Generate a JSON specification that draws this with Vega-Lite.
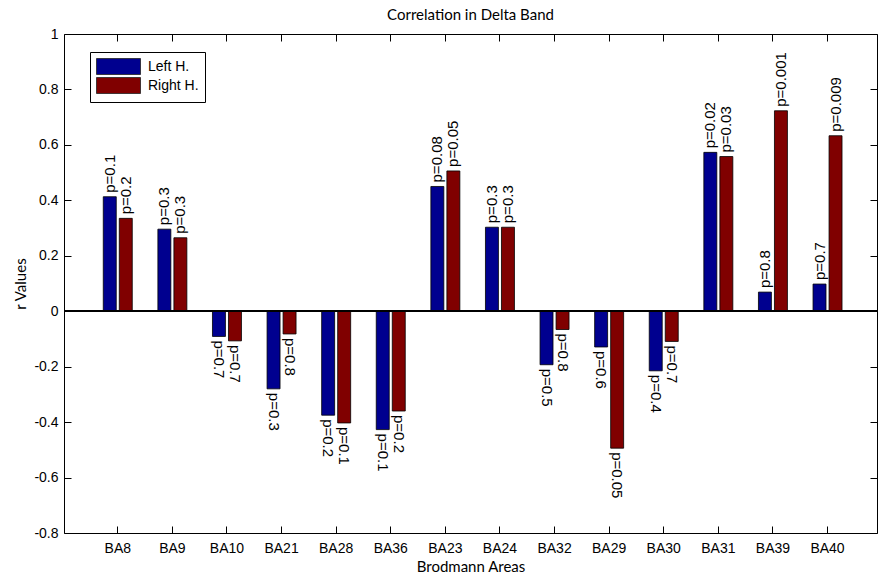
{
  "$schema": "https://vega.github.io/schema/vega-lite/v6.json",
  "width": 813,
  "height": 499,
  "autosize": {"type": "none"},
  "padding": {"left": 64, "top": 34, "right": 1, "bottom": 44},
  "background": "white",
  "title": {"text": "Correlation in Delta Band", "font": "Lato", "fontSize": 15, "fontWeight": "normal", "color": "black", "offset": 4, "anchor": "middle"},
  "config": {
    "view": {"stroke": null},
    "axis": {"grid": false, "domainColor": "black", "tickColor": "black", "labelColor": "black", "labelFont": "Liberation Sans", "labelFontSize": 14, "titleFont": "Lato", "titleFontSize": 15, "titleFontWeight": "normal", "titleColor": "black", "tickSize": -7, "domainWidth": 1, "tickWidth": 1}
  },
  "data": {"values": [
    {"area": "BA8", "hemi": "Left H.", "r": 0.413, "p": "p=0.1"},
    {"area": "BA8", "hemi": "Right H.", "r": 0.335, "p": "p=0.2"},
    {"area": "BA9", "hemi": "Left H.", "r": 0.296, "p": "p=0.3"},
    {"area": "BA9", "hemi": "Right H.", "r": 0.265, "p": "p=0.3"},
    {"area": "BA10", "hemi": "Left H.", "r": -0.091, "p": "p=0.7"},
    {"area": "BA10", "hemi": "Right H.", "r": -0.107, "p": "p=0.7"},
    {"area": "BA21", "hemi": "Left H.", "r": -0.28, "p": "p=0.3"},
    {"area": "BA21", "hemi": "Right H.", "r": -0.082, "p": "p=0.8"},
    {"area": "BA28", "hemi": "Left H.", "r": -0.375, "p": "p=0.2"},
    {"area": "BA28", "hemi": "Right H.", "r": -0.403, "p": "p=0.1"},
    {"area": "BA36", "hemi": "Left H.", "r": -0.427, "p": "p=0.1"},
    {"area": "BA36", "hemi": "Right H.", "r": -0.36, "p": "p=0.2"},
    {"area": "BA23", "hemi": "Left H.", "r": 0.45, "p": "p=0.08"},
    {"area": "BA23", "hemi": "Right H.", "r": 0.506, "p": "p=0.05"},
    {"area": "BA24", "hemi": "Left H.", "r": 0.303, "p": "p=0.3"},
    {"area": "BA24", "hemi": "Right H.", "r": 0.303, "p": "p=0.3"},
    {"area": "BA32", "hemi": "Left H.", "r": -0.193, "p": "p=0.5"},
    {"area": "BA32", "hemi": "Right H.", "r": -0.066, "p": "p=0.8"},
    {"area": "BA29", "hemi": "Left H.", "r": -0.129, "p": "p=0.6"},
    {"area": "BA29", "hemi": "Right H.", "r": -0.494, "p": "p=0.05"},
    {"area": "BA30", "hemi": "Left H.", "r": -0.215, "p": "p=0.4"},
    {"area": "BA30", "hemi": "Right H.", "r": -0.109, "p": "p=0.7"},
    {"area": "BA31", "hemi": "Left H.", "r": 0.573, "p": "p=0.02"},
    {"area": "BA31", "hemi": "Right H.", "r": 0.558, "p": "p=0.03"},
    {"area": "BA39", "hemi": "Left H.", "r": 0.069, "p": "p=0.8"},
    {"area": "BA39", "hemi": "Right H.", "r": 0.723, "p": "p=0.001"},
    {"area": "BA40", "hemi": "Left H.", "r": 0.098, "p": "p=0.7"},
    {"area": "BA40", "hemi": "Right H.", "r": 0.633, "p": "p=0.009"}
  ]},
  "layer": [
    {
      "mark": {"type": "bar", "stroke": "black", "strokeWidth": 0.8},
      "encoding": {
        "x": {"field": "area", "type": "nominal", "scale": {"domain": ["BA8","BA9","BA10","BA21","BA28","BA36","BA23","BA24","BA32","BA29","BA30","BA31","BA39","BA40"], "paddingInner": 0.469, "paddingOuter": 0.68, "align": 0.529}, "axis": {"orient": "bottom", "title": "Brodmann Areas", "labelAngle": 0, "bandPosition": 0.5, "labelPadding": 15, "titlePadding": 4}},
        "xOffset": {"field": "hemi", "type": "nominal", "scale": {"domain": ["Left H.", "Right H."], "paddingInner": 0.19, "paddingOuter": 0}},
        "y": {"field": "r", "type": "quantitative", "scale": {"domain": [-0.8, 1], "nice": false}, "axis": {"orient": "left", "title": "r Values", "values": [-0.8,-0.6,-0.4,-0.2,0,0.2,0.4,0.6,0.8,1], "labelExpr": "toString(datum.value)", "labelPadding": 13, "titlePadding": 5}},
        "color": {"field": "hemi", "type": "nominal", "scale": {"domain": ["Left H.", "Right H."], "range": ["#00008F", "#800000"]}, "legend": {"title": null, "orient": "none", "legendX": 26, "legendY": 18, "symbolType": "M-2.75,-1L2.75,-1L2.75,1L-2.75,1Z", "symbolSize": 256, "symbolOffset": 14, "labelOffset": 21, "labelFont": "Liberation Sans", "labelFontSize": 14, "labelColor": "black", "strokeColor": "black", "fillColor": "white", "padding": 6, "rowPadding": -2, "symbolStrokeColor": "#222", "symbolStrokeWidth": 0.8, "symbolOpacity": 1}}
      }
    },
    {
      "transform": [{"filter": "datum.r >= 0"}],
      "mark": {"type": "text", "angle": 270, "align": "left", "baseline": "middle", "dx": 4, "font": "Liberation Sans", "fontSize": 15, "color": "black"},
      "encoding": {
        "x": {"field": "area", "type": "nominal", "scale": {"domain": ["BA8","BA9","BA10","BA21","BA28","BA36","BA23","BA24","BA32","BA29","BA30","BA31","BA39","BA40"], "paddingInner": 0.469, "paddingOuter": 0.68, "align": 0.529}, "axis": null},
        "xOffset": {"field": "hemi", "type": "nominal", "scale": {"domain": ["Left H.", "Right H."], "paddingInner": 0.19, "paddingOuter": 0}},
        "y": {"field": "r", "type": "quantitative", "scale": {"domain": [-0.8, 1], "nice": false}, "axis": null},
        "text": {"field": "p"}
      }
    },
    {
      "transform": [{"filter": "datum.r < 0"}],
      "mark": {"type": "text", "angle": 90, "align": "left", "baseline": "middle", "dx": 4, "font": "Liberation Sans", "fontSize": 15, "color": "black"},
      "encoding": {
        "x": {"field": "area", "type": "nominal", "scale": {"domain": ["BA8","BA9","BA10","BA21","BA28","BA36","BA23","BA24","BA32","BA29","BA30","BA31","BA39","BA40"], "paddingInner": 0.469, "paddingOuter": 0.68, "align": 0.529}, "axis": {"orient": "top", "labels": false, "title": null, "bandPosition": 0.5}},
        "xOffset": {"field": "hemi", "type": "nominal", "scale": {"domain": ["Left H.", "Right H."], "paddingInner": 0.19, "paddingOuter": 0}},
        "y": {"field": "r", "type": "quantitative", "scale": {"domain": [-0.8, 1], "nice": false}, "axis": {"orient": "right", "labels": false, "title": null, "values": [-0.8,-0.6,-0.4,-0.2,0,0.2,0.4,0.6,0.8,1]}},
        "text": {"field": "p"}
      }
    },
    {
      "mark": {"type": "rule", "color": "black", "strokeWidth": 1},
      "encoding": {
        "y": {"datum": 0, "type": "quantitative", "scale": {"domain": [-0.8, 1], "nice": false}, "axis": null}
      }
    }
  ],
  "resolve": {"axis": {"x": "independent", "y": "independent"}}
}
